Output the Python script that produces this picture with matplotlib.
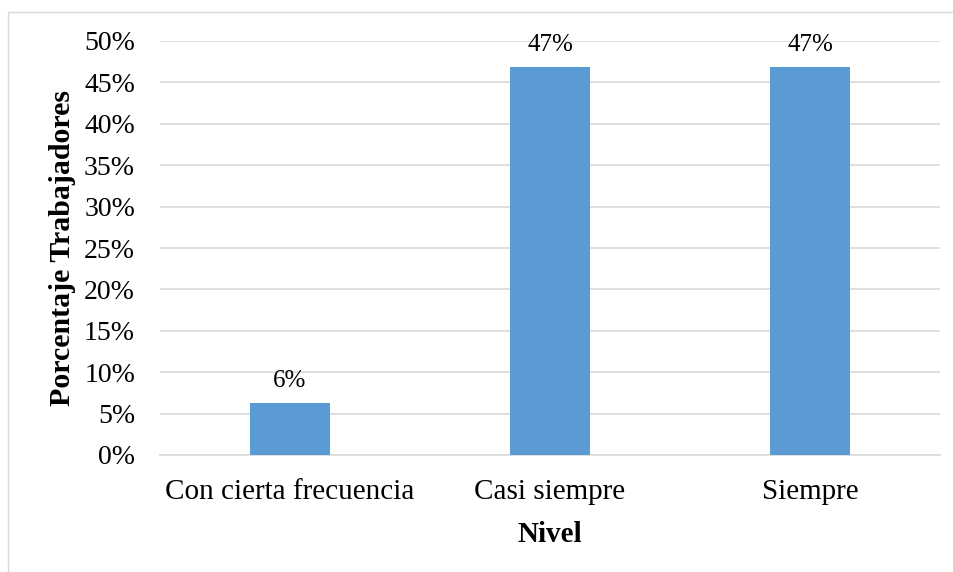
import matplotlib.pyplot as plt
from matplotlib.lines import Line2D

niveles = ['Con cierta frecuencia', 'Casi siempre', 'Siempre']
porcentajes = [6.25, 46.875, 46.875]
etiquetas = ['6%', '47%', '47%']
yticks = [0, 5, 10, 15, 20, 25, 30, 35, 40, 45, 50]

plt.rcParams['font.family'] = ['Liberation Serif', 'DejaVu Serif']

fig = plt.figure(figsize=(9.54, 5.72), dpi=100)
ax = fig.add_axes([160 / 954, 1 - 455 / 572, 780 / 954, 414 / 572])

# marco exterior (solo lados izquierdo y superior visibles)
fig.lines.append(Line2D([8.5 / 954, 8.5 / 954, 1.0], [0.0, 1 - 11.5 / 572, 1 - 11.5 / 572],
                        transform=fig.transFigure, color='#D9D9D9', linewidth=1))

x = list(range(len(niveles)))
bars = ax.bar(x, porcentajes, width=0.31, color='#5B9BD5', zorder=3)

for b, lab in zip(bars, etiquetas):
    ax.annotate(lab, (b.get_x() + b.get_width() / 2, b.get_height()),
                xytext=(0, 8), textcoords='offset points',
                ha='center', va='bottom', fontsize=18)

ax.set_xlim(-0.5, 2.5)
ax.set_ylim(0, 50)
ax.set_yticks(yticks)
ax.set_yticklabels([f'{v}%' for v in yticks])
ax.set_xticks(x)
ax.set_xticklabels(niveles)
ax.yaxis.grid(True, color='#D9D9D9', linewidth=1.2, zorder=0)
ax.tick_params(axis='y', length=0, pad=18, labelsize=20)
ax.tick_params(axis='x', length=0, pad=17, labelsize=21)
for s in ['top', 'right', 'left']:
    ax.spines[s].set_visible(False)
ax.spines['bottom'].set_color('#D9D9D9')
ax.spines['bottom'].set_linewidth(1.2)

ax.set_xlabel('Nivel', fontsize=21, fontweight='bold', labelpad=12)
ax.set_ylabel('Porcentaje Trabajadores', fontsize=21.5, fontweight='bold', labelpad=6)

fig.savefig('out.png', dpi=100)
